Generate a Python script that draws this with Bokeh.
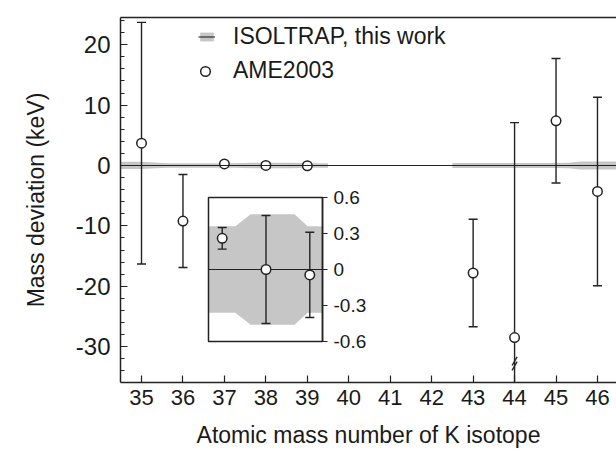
import numpy as np
from bokeh.plotting import figure
from bokeh.models import (Range1d, LinearAxis, FixedTicker, Legend, LegendItem,
                          ColumnDataSource, Span)
from bokeh.embed import file_html
from bokeh.resources import INLINE

# ---------------- data ----------------
# AME2003 mass deviations relative to ISOLTRAP (keV)
masses = [35, 36, 37, 38, 39, 43, 44, 45, 46]
ame_dev = [3.7, -9.2, 0.26, 0.0, -0.045, -17.8, -28.5, 7.4, -4.3]
ame_err = [20.0, 7.7, 0.09, 0.45, 0.355, 8.9, 35.6, 10.3, 15.6]

# ISOLTRAP uncertainty band (half widths, keV)
band1_x = [34.4, 35.0, 35.6, 36.0, 37.3, 37.65, 38.65, 38.95, 39.5]
band1_hw = [0.6, 0.6, 0.38, 0.36, 0.36, 0.46, 0.46, 0.36, 0.36]
band2_x = [42.5, 43.0, 44.0, 45.0, 45.3, 45.6, 46.0, 46.6]
band2_hw = [0.4, 0.4, 0.4, 0.4, 0.45, 0.65, 0.65, 0.65]

x_ticks = list(range(35, 47))
y_ticks = [-30, -20, -10, 0, 10, 20]
y_tick_labels = ["-30", "-20", "-10", "0", "10", "20"]
y_minor_ticks = list(range(-34, 25, 2))

# inset (zoom on 37-39K)
inset_x_lim = (36.687, 39.29)
inset_y_lim = (-0.6, 0.6)
inset_ticks = [-0.6, -0.3, 0.0, 0.3, 0.6]
inset_tick_labels = ["-0.6", "-0.3", "0", "0.3", "0.6"]
inset_band_x = [36.687, 37.3, 37.65, 38.65, 38.95, 39.29]
inset_band_hw = [0.36, 0.36, 0.46, 0.46, 0.36, 0.36]

# axis break on the 44K error bar
break_mass = [44, 44]
break_y = [-32.4, -33.2]

FONT = "Liberation Sans"
TXT = "#1a1a1a"
INK = "#222222"
BAND = "#c6c6c6"

# ---------------- sources ----------------
dev = np.array(ame_dev)
err = np.array(ame_err)
src = ColumnDataSource(dict(x=masses, y=ame_dev, lo=list(dev - err), hi=list(dev + err)))
b1 = ColumnDataSource(dict(x=band1_x, lo=[-h for h in band1_hw], hi=band1_hw, c=[0.0] * len(band1_x)))
b2 = ColumnDataSource(dict(x=band2_x, lo=[-h for h in band2_hw], hi=band2_hw, c=[0.0] * len(band2_x)))
sel = [i for i, m in enumerate(masses) if inset_x_lim[0] < m < inset_x_lim[1]]
isrc = ColumnDataSource(dict(x=[masses[i] for i in sel], y=[ame_dev[i] for i in sel],
                             lo=[float(dev[i] - err[i]) for i in sel],
                             hi=[float(dev[i] + err[i]) for i in sel]))
ib = ColumnDataSource(dict(x=inset_band_x, lo=[-h for h in inset_band_hw], hi=inset_band_hw))

# ---------------- main figure ----------------
p = figure(frame_width=496, frame_height=365,
           x_range=Range1d(34.493, 46.459), y_range=Range1d(-35.93, 24.5),
           output_backend="svg", toolbar_location=None,
           min_border_left=120, min_border_right=0, min_border_top=17, min_border_bottom=69)
p.outline_line_color = None
p.grid.visible = False
p.background_fill_color = "white"
p.border_fill_color = "white"
# inset scales, placed inside the same frame
p.extra_x_ranges = {"inx": Range1d(34.678, 46.002)}
p.extra_y_ranges = {"iny": Range1d(-0.9417, 2.1)}

r_b1 = p.varea(x="x", y1="lo", y2="hi", source=b1, fill_color=BAND)
r_b2 = p.varea(x="x", y1="lo", y2="hi", source=b2, fill_color=BAND)
p.add_layout(Span(location=0, dimension="width", line_color=INK, line_width=1.1))
r_c1 = p.line(x="x", y="c", source=b1, line_color=INK, line_width=1.1)
p.line(x="x", y="c", source=b2, line_color=INK, line_width=1.1)

p.segment(x0="x", y0="lo", x1="x", y1="hi", source=src, line_color=INK, line_width=1.4)
p.scatter(x="x", y="hi", source=src, marker="dash", size=9, line_color=INK, line_width=1.4)
p.scatter(x="x", y="lo", source=src, marker="dash", size=9, line_color=INK, line_width=1.4)
p.scatter(x=break_mass, y=break_y, marker="dash", size=10, angle=np.pi / 3,
          line_color=INK, line_width=1.4)
r_pts = p.scatter(x="x", y="y", source=src, marker="circle", size=9.5, fill_color="white",
                  line_color=INK, line_width=1.5)

# ---- inset content ----
kw = dict(x_range_name="inx", y_range_name="iny")
p.quad(left=[inset_x_lim[0]], right=[inset_x_lim[1]], bottom=[inset_y_lim[0]], top=[inset_y_lim[1]],
       fill_color="white", line_color=None, **kw)
p.varea(x="x", y1="lo", y2="hi", source=ib, fill_color=BAND, **kw)
p.segment(x0=[inset_x_lim[0]], x1=[inset_x_lim[1]], y0=[0], y1=[0], line_color=INK, line_width=1.1, **kw)
p.segment(x0="x", y0="lo", x1="x", y1="hi", source=isrc, line_color=INK, line_width=1.4, **kw)
p.scatter(x="x", y="hi", source=isrc, marker="dash", size=9, line_color=INK, line_width=1.4, **kw)
p.scatter(x="x", y="lo", source=isrc, marker="dash", size=9, line_color=INK, line_width=1.4, **kw)
p.scatter(x="x", y="y", source=isrc, marker="circle", size=9.5, fill_color="white",
          line_color=INK, line_width=1.5, **kw)
p.quad(left=[inset_x_lim[0]], right=[inset_x_lim[1]], bottom=[inset_y_lim[0]], top=[inset_y_lim[1]],
       fill_color=None, line_color=INK, line_width=1.5, **kw)

ia = LinearAxis(x_range_name="inx", y_range_name="iny", fixed_location=inset_x_lim[1],
                bounds=inset_y_lim, ticker=FixedTicker(ticks=inset_ticks, minor_ticks=[]),
                major_label_overrides={t: l for t, l in zip(inset_ticks, inset_tick_labels)},
                axis_line_color=INK, axis_line_width=1.5,
                major_tick_line_color=INK, major_tick_line_width=1.2,
                major_tick_out=5, major_tick_in=0, minor_tick_out=0, minor_tick_in=0,
                major_label_standoff=6, major_label_text_font=FONT,
                major_label_text_font_size="19px", major_label_text_color=TXT)
p.add_layout(ia, "right")

# ---- main axes ----
xa = p.xaxis[0]
xa.ticker = FixedTicker(ticks=x_ticks, minor_ticks=[])
xa.axis_label = "Atomic mass number of K isotope"
ya = p.yaxis[0]
ya.ticker = FixedTicker(ticks=y_ticks, minor_ticks=y_minor_ticks)
ya.major_label_overrides = {t: l for t, l in zip(y_ticks, y_tick_labels)}
ya.axis_label = "Mass deviation (keV)"
for ax in (xa, ya):
    ax.axis_line_color = INK
    ax.axis_line_width = 1.5
    ax.major_tick_line_color = INK
    ax.minor_tick_line_color = INK
    ax.major_tick_line_width = 1.2
    ax.minor_tick_line_width = 1.2
    ax.major_tick_out = 0
    ax.minor_tick_out = 0
    ax.major_label_text_font = FONT
    ax.major_label_text_color = TXT
    ax.axis_label_text_font = FONT
    ax.axis_label_text_font_size = "23px"
    ax.axis_label_text_font_style = "normal"
    ax.axis_label_text_color = TXT
xa.major_label_text_font_size = "22px"
ya.major_label_text_font_size = "24px"
xa.major_tick_in = 7
ya.major_tick_in = 7
ya.minor_tick_in = 4
xa.major_label_standoff = 7
xa.axis_label_standoff = 14
ya.major_label_standoff = 10
ya.axis_label_standoff = 24

top = LinearAxis(ticker=FixedTicker(ticks=[]), axis_line_color=INK, axis_line_width=1.5,
                 major_tick_out=0, major_tick_in=0, minor_tick_out=0, minor_tick_in=0,
                 major_label_text_font_size="0px", major_label_standoff=0)
p.add_layout(top, "above")

leg_kw = dict(orientation="vertical", padding=0, margin=0, border_line_color=None,
              background_fill_alpha=0, label_text_font=FONT, label_text_font_size="23px",
              label_text_color=TXT)
leg_band = Legend(items=[LegendItem(label="ISOLTRAP, this work", renderers=[r_b1, r_c1])],
                  location=(78, 332), glyph_width=17, glyph_height=11, label_standoff=18, **leg_kw)
leg_pts = Legend(items=[LegendItem(label="AME2003", renderers=[r_pts])],
                 location=(73, 298), glyph_width=24, glyph_height=24, label_standoff=16, **leg_kw)
p.add_layout(leg_band)
p.add_layout(leg_pts)

open("out.html", "w").write(file_html(p, INLINE))
